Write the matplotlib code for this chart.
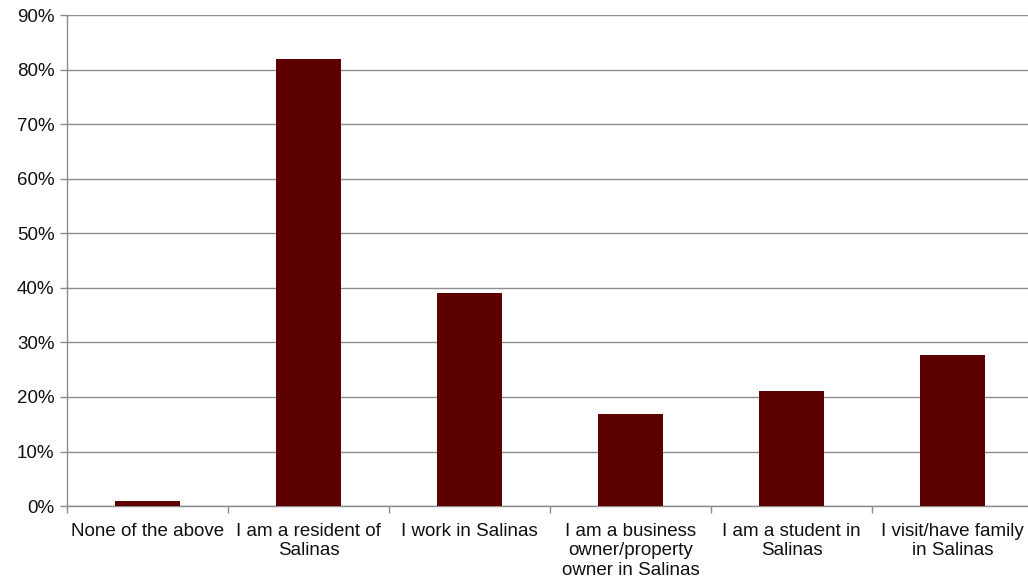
import matplotlib.pyplot as plt
import numpy as np

categories = ["None of the above", "I am a resident of\nSalinas", "I work in Salinas",
              "I am a business\nowner/property\nowner in Salinas",
              "I am a student in\nSalinas", "I visit/have family\nin Salinas"]
values = [0.9, 81.9, 39.1, 16.8, 21.1, 27.7]
yticks = [0, 10, 20, 30, 40, 50, 60, 70, 80, 90]

plt.rcParams['font.family'] = ['Liberation Sans', 'DejaVu Sans']

fig = plt.figure(figsize=(10.28, 5.83), dpi=100)
ax = fig.add_axes([0.0652, 0.132, 0.9397, 0.842])

x = np.arange(len(categories))
ax.bar(x, values, width=0.4, color='#5C0000', zorder=3)

ax.set_xlim(-0.5, len(categories) - 0.5)
ax.set_ylim(0, 90)
ax.set_yticks(yticks)
ax.set_yticklabels([f"{v}%" for v in yticks], fontsize=13.5, color='#111111')
ax.yaxis.grid(True, color='#8c8c8c', linewidth=1, zorder=0)

# category labels centered, ticks between categories
ax.set_xticks(x)
ax.set_xticklabels(categories, fontsize=13.5, color='#111111', linespacing=1.2)
ax.tick_params(axis='x', length=0, pad=12)
ax.set_xticks(np.arange(-0.5, len(categories)), minor=True)
ax.tick_params(axis='x', which='minor', length=5, color='#8c8c8c', width=1)
ax.tick_params(axis='y', length=5, color='#8c8c8c', width=1, pad=4)

for side in ['top', 'right']:
    ax.spines[side].set_visible(False)
for side in ['left', 'bottom']:
    ax.spines[side].set_color('#8c8c8c')
    ax.spines[side].set_linewidth(1)

fig.savefig('out.png', dpi=100)
